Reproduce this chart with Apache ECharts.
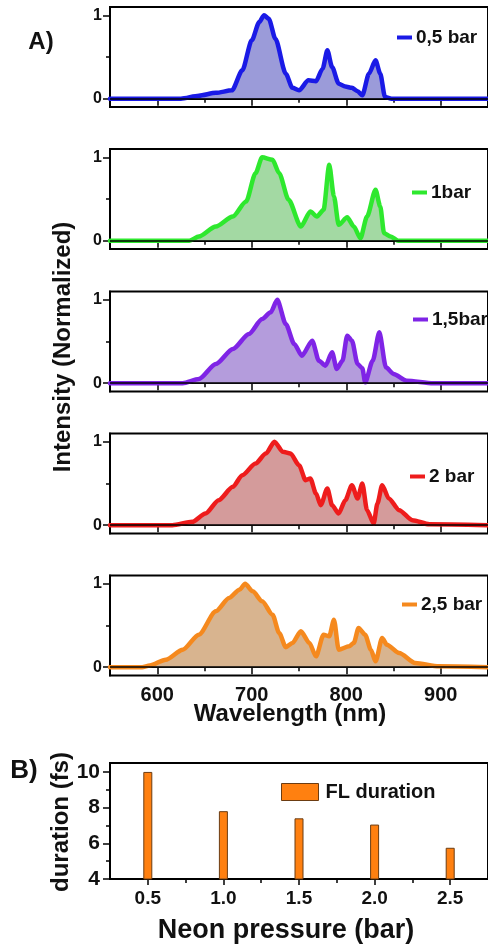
<!DOCTYPE html>
<html>
<head>
<meta charset="utf-8">
<script src="https://cdn.jsdelivr.net/npm/echarts@6/dist/echarts.min.js"></script>
<style>
html,body{margin:0;padding:0;background:#fff;}
#chart{width:488px;height:948px;}
</style>
</head>
<body>
<div id="chart"></div>
<script>
// ---- Data ----
const seriesLabels = ['0,5 bar', '1bar', '1,5bar', '2 bar', '2,5 bar'];

const wl05 = [550, 625, 644, 662, 679, 690, 700, 708, 713, 718, 725, 736, 743, 750, 760, 768, 775, 780, 785, 792, 799, 806, 812, 817, 824, 831, 836, 841, 848, 950];
const in05 = [0, 0, 0.036, 0.07, 0.1, 0.34, 0.70, 0.92, 1.0, 0.96, 0.72, 0.3, 0.13, 0.1, 0.22, 0.21, 0.36, 0.58, 0.38, 0.18, 0.145, 0.13, 0.09, 0.04, 0.3, 0.46, 0.3, 0.02, 0, 0];

const wl10 = [550, 634, 644, 662, 680, 694, 704, 711, 722, 729, 739, 752, 762, 769, 776, 782, 787, 792, 801, 808, 815, 822, 831, 836, 840, 847, 855, 950];
const in10 = [0, 0, 0.05, 0.17, 0.29, 0.47, 0.81, 1.0, 0.97, 0.81, 0.49, 0.17, 0.35, 0.29, 0.37, 0.91, 0.53, 0.19, 0.28, 0.17, 0.03, 0.29, 0.61, 0.41, 0.09, 0.05, 0, 0];

const wl15 = [550, 627, 644, 662, 680, 697, 711, 720, 727, 736, 745, 753, 764, 771, 778, 785, 790, 796, 801, 806, 812, 817, 820, 828, 835, 842, 850, 864, 892, 950];
const in15 = [0, 0, 0.05, 0.23, 0.41, 0.59, 0.77, 0.85, 1.0, 0.71, 0.47, 0.33, 0.51, 0.27, 0.21, 0.37, 0.17, 0.27, 0.57, 0.51, 0.23, 0.18, 0.01, 0.27, 0.61, 0.19, 0.11, 0.03, 0, 0];

const wl20 = [550, 616, 637, 651, 665, 680, 690, 704, 715, 724, 733, 741, 750, 757, 762, 768, 773, 780, 785, 792, 799, 806, 812, 817, 822, 829, 833, 838, 845, 856, 870, 888, 950];
const in20 = [0, 0, 0.04, 0.14, 0.30, 0.46, 0.60, 0.74, 0.86, 1.0, 0.88, 0.86, 0.72, 0.54, 0.56, 0.38, 0.24, 0.44, 0.24, 0.14, 0.30, 0.48, 0.32, 0.50, 0.18, 0.02, 0.26, 0.48, 0.32, 0.18, 0.06, 0.01, 0];

const wl25 = [550, 584, 592, 609, 627, 644, 662, 676, 687, 693, 701, 711, 722, 729, 736, 743, 752, 761, 768, 776, 782, 787, 792, 803, 808, 813, 820, 826, 831, 838, 843, 856, 873, 898, 950];
const in25 = [0, 0, 0.02, 0.09, 0.21, 0.39, 0.67, 0.83, 0.93, 1.0, 0.91, 0.79, 0.63, 0.41, 0.24, 0.29, 0.43, 0.29, 0.13, 0.39, 0.37, 0.57, 0.21, 0.25, 0.29, 0.47, 0.39, 0.21, 0.07, 0.35, 0.27, 0.17, 0.05, 0.01, 0];

const wlTicks = [600, 700, 800, 900];
const wlMinorTicks = [650, 750, 850];

const pressure = [0.5, 1.0, 1.5, 2.0, 2.5];
const flDuration = [10.0, 7.8, 7.4, 7.05, 5.75];
const durTicks = [4, 6, 8, 10];
const durMinorTicks = [5, 7, 9];
const pressureMinorTicks = [0.75, 1.25, 1.75, 2.25];

// ---- Styling / layout ----
const FONT = '"Liberation Sans", Arial, sans-serif';
const TXT = '#111';
const lineColors = ['#1a1ae6', '#2ee82e', '#7f24e6', '#ee1c1c', '#f5891e'];
const fillColors = ['#9b9bd9', '#a3d9a3', '#b49cdc', '#d49b9b', '#d8b48f'];
const panelTops = [7, 149, 291.5, 433.5, 575.5];
const legendPos = [[392, 23], [407, 178], [408, 305], [405, 462], [397, 590]];
const wls = [wl05, wl10, wl15, wl20, wl25];
const ins = [in05, in10, in15, in20, in25];

const grids = [], xAxes = [], yAxes = [], series = [], legends = [];
const axisLineStyle = {show: true, lineStyle: {color: '#000', width: 2}};

for (let i = 0; i < 5; i++) {
  grids.push({left: 110, top: panelTops[i], width: 380, height: 100, show: true, borderColor: '#000', borderWidth: 2});
  xAxes.push({gridIndex: i, type: 'value', position: 'bottom', min: 550, max: 950, axisLine: axisLineStyle,
    axisTick: {show: true, customValues: wlTicks, length: 7, lineStyle: {color: '#000', width: 1.5}},
    axisLabel: {show: i === 4, customValues: wlTicks, fontSize: 20, fontWeight: 'bold', color: TXT, fontFamily: FONT, margin: 10},
    splitLine: {show: false}});
  xAxes.push({gridIndex: i, type: 'value', position: 'bottom', min: 550, max: 950, axisLine: {show: false},
    axisTick: {show: true, customValues: wlMinorTicks, length: 4, lineStyle: {color: '#000', width: 1.5}},
    axisLabel: {show: false}, splitLine: {show: false}});
  yAxes.push({gridIndex: i, type: 'value', position: 'left', min: -0.1, max: 1.1, axisLine: axisLineStyle,
    axisTick: {show: true, customValues: [0, 1], length: 7, lineStyle: {color: '#000', width: 1.5}},
    axisLabel: {show: true, customValues: [0, 1], fontSize: 16, fontWeight: 'bold', color: TXT, fontFamily: FONT, margin: 8},
    splitLine: {show: false}});
  yAxes.push({gridIndex: i, type: 'value', position: 'left', min: -0.1, max: 1.1, axisLine: {show: false},
    axisTick: {show: true, customValues: [0.5], length: 4, lineStyle: {color: '#000', width: 1.5}},
    axisLabel: {show: false}, splitLine: {show: false}});

  const data = wls[i].map((w, k) => [w, ins[i][k]]);
  series.push({type: 'line', name: 'area' + i, xAxisIndex: 2 * i, yAxisIndex: 2 * i, data: data,
    symbol: 'none', smooth: 0.25, smoothMonotone: 'x', lineStyle: {width: 0},
    areaStyle: {color: fillColors[i], opacity: 1}, z: 2, silent: true,
    markLine: {silent: true, symbol: 'none', label: {show: false}, animation: false,
      lineStyle: {color: '#000', width: 1.5, type: 'solid'}, data: [{yAxis: 0}]}});
  series.push({type: 'line', name: seriesLabels[i], xAxisIndex: 2 * i, yAxisIndex: 2 * i, data: data,
    symbol: 'none', smooth: 0.25, smoothMonotone: 'x',
    lineStyle: {width: 4.5, color: lineColors[i], join: 'round', cap: 'round'}, itemStyle: {color: lineColors[i]}, z: 4});
  legends.push({data: [seriesLabels[i]], left: legendPos[i][0], top: legendPos[i][1], icon: 'rect',
    itemWidth: 15, itemHeight: 4, selectedMode: false,
    textStyle: {fontSize: 19, fontWeight: 'bold', color: TXT, fontFamily: FONT, padding: [0, 0, 0, -1]}});
}

// Panel B
grids.push({left: 110, top: 763, width: 380, height: 116, show: true, borderColor: '#000', borderWidth: 2});
xAxes.push({gridIndex: 5, type: 'value', position: 'bottom', min: 0.25, max: 2.75, axisLine: axisLineStyle,
  axisTick: {show: true, customValues: pressure, length: 6, lineStyle: {color: '#000', width: 1.5}},
  axisLabel: {show: true, customValues: pressure, formatter: v => v.toFixed(1), fontSize: 19, fontWeight: 'bold', color: TXT, fontFamily: FONT, margin: 10},
  splitLine: {show: false}});
xAxes.push({gridIndex: 5, type: 'value', position: 'bottom', min: 0.25, max: 2.75, axisLine: {show: false},
  axisTick: {show: true, customValues: pressureMinorTicks, length: 4, lineStyle: {color: '#000', width: 1.5}},
  axisLabel: {show: false}, splitLine: {show: false}});
yAxes.push({gridIndex: 5, type: 'value', position: 'left', min: 4, max: 10.5, axisLine: axisLineStyle,
  axisTick: {show: true, customValues: durTicks, length: 7, lineStyle: {color: '#000', width: 1.5}},
  axisLabel: {show: true, customValues: durTicks, fontSize: 21, fontWeight: 'bold', color: TXT, fontFamily: FONT, margin: 10},
  splitLine: {show: false}});
yAxes.push({gridIndex: 5, type: 'value', position: 'left', min: 4, max: 10.5, axisLine: {show: false},
  axisTick: {show: true, customValues: durMinorTicks, length: 4, lineStyle: {color: '#000', width: 1.5}},
  axisLabel: {show: false}, splitLine: {show: false}});
series.push({type: 'bar', name: 'FL duration', xAxisIndex: 10, yAxisIndex: 10,
  data: pressure.map((p, k) => [p, flDuration[k]]), barWidth: 9,
  itemStyle: {color: '#ff8010', borderColor: '#6b3c12', borderWidth: 1}, z: 3});
legends.push({data: ['FL duration'], left: 276, top: 777, icon: 'rect', itemWidth: 37, itemHeight: 17,
  itemGap: 0, selectedMode: false,
  itemStyle: {color: '#ff8010', borderColor: '#6b3c12', borderWidth: 1},
  textStyle: {fontSize: 20, fontWeight: 'bold', color: TXT, fontFamily: FONT, padding: [0, 0, 0, 2]}});

const option = {
  animation: false,
  backgroundColor: '#fff',
  grid: grids,
  xAxis: xAxes,
  yAxis: yAxes,
  legend: legends,
  series: series,
  graphic: [
    {type: 'text', x: 41, y: 42, style: {text: 'A)', font: 'bold 24px ' + FONT, fill: TXT, textAlign: 'center', textVerticalAlign: 'middle'}},
    {type: 'text', x: 24, y: 771, style: {text: 'B)', font: 'bold 26px ' + FONT, fill: TXT, textAlign: 'center', textVerticalAlign: 'middle'}},
    {type: 'text', x: 63, y: 347, rotation: Math.PI / 2, style: {text: 'Intensity (Normalized)', font: 'bold 24px ' + FONT, fill: TXT, textAlign: 'center', textVerticalAlign: 'middle'}},
    {type: 'text', x: 290, y: 714, style: {text: 'Wavelength (nm)', font: 'bold 24px ' + FONT, fill: TXT, textAlign: 'center', textVerticalAlign: 'middle'}},
    {type: 'text', x: 61, y: 822, rotation: Math.PI / 2, style: {text: 'duration (fs)', font: 'bold 24px ' + FONT, fill: TXT, textAlign: 'center', textVerticalAlign: 'middle'}},
    {type: 'text', x: 286, y: 931, style: {text: 'Neon pressure (bar)', font: 'bold 27px ' + FONT, fill: TXT, textAlign: 'center', textVerticalAlign: 'middle'}}
  ]
};

const chart = echarts.init(document.getElementById('chart'), null, {renderer: 'canvas'});
chart.setOption(option);
</script>
</body>
</html>
